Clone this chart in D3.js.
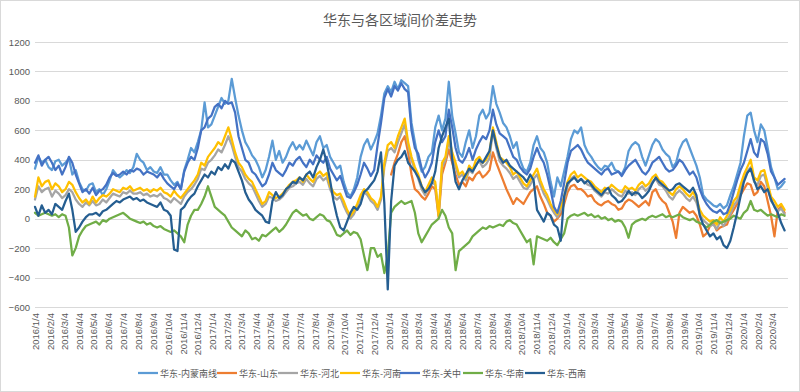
<!DOCTYPE html>
<html><head><meta charset="utf-8">
<script src="https://cdn.jsdelivr.net/npm/d3@7"></script>
<style>body{margin:0;background:#fff}svg{display:block}</style>
</head><body>
<svg id="c" width="800" height="392"></svg>
<script>
const seriesNames = ["华东-内蒙南线","华东-山东","华东-河北","华东-河南","华东-关中","华东-华南","华东-西南"];
const seriesColors = ["#5B9BD5","#ED7D31","#A5A5A5","#FFC000","#4472C4","#70AD47","#255E91"];
const yTicks = [-600,-400,-200,0,200,400,600,800,1000,1200];
// weekly sampling dates (Mondays) 2016/1/4 – 2020/3/30
const dates = d3.timeMondays(new Date(2016,0,4), new Date(2020,2,31));
const tickDates = d3.timeMonth.range(new Date(2016,0,1), new Date(2020,3,1)).map(d => new Date(d.getFullYear(), d.getMonth(), 4));

const neimeng = [340,420,380,400, 350,330,390,400,360, 380,410,300,330, 250,200,190,230, 240,180,200,160,200, 260,330,300,280, 300,330,310,350, 440,400,380,330,350, 320,310,350,300, 300,260,230,250,200, 330,400,480,450, 520,600,790,620,
640,700,760,820,780, 800,950,820,700, 600,520,480,430, 400,350,280,330, 420,530,400,460,380, 420,480,520,470, 500,470,530,480,430, 520,560,480,500, 420,380,340,360, 250,180,150,200,280, 420,500,540,470, 520,580,700,850,
900,860,930,880,940, 920,900,650,520, 400,320,350,420, 450,620,700,600,680, 930,700,580,450, 420,520,600,480, 560,700,740,680,720, 900,780,720,650, 620,560,480,520, 400,340,320,380,500, 560,480,450,380, 250,150,280,220,320,
420,540,600,580, 620,500,450,420, 380,350,330,360, 350,380,330,320,300, 350,460,500,520, 500,420,360,430, 500,540,520,470,440, 420,350,380,470, 520,540,480,420,360, 280,160,130,110, 90,80,100,70, 90,160,220,300,380,
560,700,720,600, 520,640,600,480, 350,280,200,220,250];

const shandong = Array(105).fill(null).concat([300,380,440,520, 560,450,300,200, 180,150,130,170, 220,200,10,300,380, 470,380,300,230, 250,220,280,260, 300,320,280,300,330, 450,380,320,260, 200,150,100,140, 120,100,140,180,200, 220,150,100,40, 20,-20,0,30,100,
180,220,230,200, 200,180,150,160, 120,100,90,110, 120,100,90,60,70, 110,130,120,100, 80,100,120,90, 180,200,150,120,100, 40,-20,-130,40, 80,60,40,50,20, -40,-120,-100,-50, -30,-80,-60,-50, -40,20,60,100,160,
200,240,230,160, 180,250,220,120, 20,-120,60,80,40]);

const hebei = [130,220,180,200, 210,150,190,170,140, 160,200,180,130, 100,80,110,90, 120,90,100,130,110, 140,170,160,150, 180,170,190,170, 170,180,160,170,150, 160,150,170,140, 130,110,140,120,100, 150,180,200,230, 270,340,330,380,
400,430,470,450,500, 560,500,420,350, 320,270,240,220, 170,120,80,100, 150,140,120,130,150, 180,210,220,240, 250,230,270,240,220, 270,290,260,280, 200,150,130,150, 90,40,0,30,80, 140,180,160,120, 100,60,130,350,
460,480,450,520,580, 640,500,400,330, 270,200,160,210, 250,230,30,350,400, 530,420,350,280, 300,260,330,310, 370,390,350,370,410, 600,480,390,360, 340,310,270,290, 250,210,200,230,270, 300,230,170,130, 80,40,10,60,130,
220,270,290,250, 270,250,230,220, 190,170,150,180, 170,200,180,160,150, 190,170,180,160, 200,220,190,210, 250,270,230,220,190, 150,130,170,190, 170,140,120,150,110, 30,-10,-30,-50, -40,-70,-20,-50, -10,30,90,120,200,
270,320,350,250, 230,290,300,210, 120,90,50,70,30];

const henan = [150,280,220,250, 260,200,240,220,180, 200,250,230,180, 140,110,130,100, 150,110,140,160,150, 170,200,190,180, 210,200,220,190, 200,210,190,200,180, 200,190,210,180, 170,150,190,160,140, 170,200,230,260, 300,380,360,420,
450,480,520,500,560, 620,540,450,380, 350,300,270,250, 200,150,100,120, 180,160,140,150,170, 200,230,250,260, 280,250,300,270,250, 300,320,290,310, 220,180,160,170, 120,60,20,50,100, 160,200,180,140, 120,80,150,380,
500,520,480,560,620, 680,520,420,350, 300,220,180,230, 280,250,20,380,420, 560,450,380,300, 320,280,360,330, 400,420,380,400,450, 620,520,420,400, 380,350,300,320, 280,240,220,260,300, 340,260,200,160, 100,60,30,80,150,
250,300,320,280, 300,280,260,250, 220,200,180,210, 200,230,210,190,180, 220,200,210,190, 230,250,220,240, 280,300,260,250,220, 180,160,200,220, 200,170,150,180,140, 60,20,0,-20, -10,-40,10,-20, 20,60,120,150,230,
300,350,400,280, 260,320,330,240, 150,120,80,100,60];

const guanzhong = [380,430,360,400, 420,380,330,360,300, 350,420,380,300, 240,180,200,170, 210,160,190,200,230, 280,310,290,300, 320,300,330,320, 340,330,300,320,310, 300,280,310,270, 240,220,200,240,200, 320,380,420,400, 480,600,620,680,
700,760,780,750,800, 780,790,720,560, 480,400,380,320, 300,260,220,240, 300,380,330,310,290, 330,380,360,400, 420,380,350,400,370, 430,400,380,420, 340,300,260,290, 220,150,140,180,230, 300,380,340,290, 330,500,650,820,
880,830,900,870,920, 880,860,600,480, 440,340,280,320, 380,520,600,520,560, 740,620,480,400, 380,420,480,400, 470,520,560,540,600, 740,640,580,560, 540,480,420,400, 350,320,300,340,420, 480,420,380,300, 200,80,40,120,240,
380,460,480,500, 470,420,380,360, 340,320,300,330, 340,300,310,320,290, 330,360,380,400, 360,320,300,330, 380,400,420,380,340, 320,330,360,400, 380,340,300,320,280, 200,140,100,70, 50,40,60,30, 40,100,180,260,330,
380,460,540,450, 420,540,520,440, 320,280,230,250,270];

const huanan = [40,20,30,40, 30,20,30,10,30, 20,-60,-250,-200, -120,-80,-50,-40, -30,-20,-40,-10,-20, 0,10,20,30, 40,20,0,-10, -20,-30,-20,-40,-30, -50,-60,-50,-70, -80,-90,-80,-100,-120, -160,-40,20,60, 60,100,150,220,
150,80,60,40,20, -20,-60,-80,-100, -120,-80,-100,-140, -130,-150,-110,-120, -100,-80,-60,-90,-70, -40,0,40,60, 40,20,30,0,-10, 10,30,20,-10, -20,-60,-110,-120, -100,-80,-110,-90,-100, -140,-250,-350,-200, -200,-260,-240,-370,
-250,40,80,100,120, 100,110,120,40, -100,-160,-120,-80, -40,-20,0,60,20, -60,-100,-350,-220, -200,-180,-160,-120, -100,-80,-60,-70,-50, -60,-50,-40,-50, -20,-10,-30,-40, -80,-120,-160,-140,-310, -120,-130,-140,-150, -130,-160,-180,-140,-100,
0,20,30,20, 30,40,20,30, 10,20,0,10, -10,0,-20,-10,-20, -60,-130,-40,-20, -10,0,-10,10, 20,10,20,30,10, 20,10,20,30, 10,0,-10,0,-20, -30,-40,-60,-40, -20,-10,-30,-20, -10,0,20,10,0,
40,60,120,60, 50,60,40,20, 30,20,10,30,20];

const xinan = [80,20,90,40, 60,30,100,80,60, 120,170,60,-90, -60,-20,10,30, 30,40,20,50,60, 80,100,120,110, 130,140,150,130, 140,120,130,110,100, 90,80,110,60, 50,20,-210,-220,60, 80,120,150,170, 220,260,300,280,
320,300,350,330,370, 340,400,380,320, 260,180,130,100, 60,40,20,-20, -30,120,180,140,160, 200,220,250,240, 280,260,300,320,280, 350,400,470,380, 260,120,20,-60, -80,-20,40,80,60, 100,180,200,230, 260,320,450,100,
-480,120,360,400,420, 460,380,350,320, 280,220,180,200, 240,320,480,560,620, 680,400,250,200, 260,300,340,320, 360,400,380,420,460, 600,500,420,380, 400,360,340,320, 300,280,250,300,260, 60,20,-20,40, 20,-40,-60,-150,150,
240,260,280,250, 270,240,260,230, 200,180,160,190, 210,160,140,110,120, 150,190,160,180, 170,140,160,190, 240,280,250,230,210, 190,200,230,240, 220,200,180,210,160, 20,-40,-80,-120, -100,-140,-120,-180, -200,-150,-60,40,150,
250,310,340,260, 200,220,180,200, 130,80,40,-30,-80];

const seriesData = [neimeng, shandong, hebei, henan, guanzhong, huanan, xinan];

const svg = d3.select("#c");
const W = 800, H = 392;
svg.append("rect").attr("x",0.5).attr("y",0.5).attr("width",W-1).attr("height",H-1).attr("fill","#fff").attr("stroke","#D9D9D9");

const x = d3.scaleTime().domain([new Date(2016,0,4), new Date(2020,3,6)]).range([35, 788]);
const y = d3.scaleLinear().domain([-600, 1200]).range([307, 42]);

// gridlines
svg.append("g").selectAll("line").data(yTicks).join("line")
  .attr("x1",35).attr("x2",788).attr("y1",d=>Math.round(y(d))+0.5).attr("y2",d=>Math.round(y(d))+0.5)
  .attr("stroke","#D9D9D9").attr("stroke-width",1);

// y axis labels
const yAxis = d3.axisLeft(y).tickValues(yTicks).tickFormat(d3.format("d")).tickSize(0).tickPadding(0);
const gy = svg.append("g").attr("transform","translate(30,0)").call(yAxis);
gy.select(".domain").remove();
gy.selectAll("text").attr("fill","#595959").style("font-family","'Liberation Sans',Arial,sans-serif").style("font-size","9.5px");

// x axis labels
const xAxis = d3.axisBottom(x).tickValues(tickDates).tickFormat(d3.timeFormat("%Y/%-m/%-d")).tickSize(0).tickPadding(0);
const gx = svg.append("g").attr("transform","translate(0,313)").call(xAxis);
gx.select(".domain").remove();
gx.selectAll("text").attr("fill","#595959").style("font-family","'Liberation Sans',Arial,sans-serif").style("font-size","9.5px")
  .attr("transform","rotate(-90)").attr("text-anchor","end").attr("x",0).attr("y",0).attr("dy","0.35em");

// lines
const line = d3.line().defined(d => d !== null).x((d,i) => x(dates[i])).y(d => y(d));
svg.append("g").selectAll("path").data(seriesData).join("path")
  .attr("d", line).attr("fill","none")
  .attr("stroke",(d,i)=>seriesColors[i]).attr("stroke-width",2.25)
  .attr("stroke-linejoin","round").attr("stroke-linecap","round");

// title
svg.append("text").attr("x",400).attr("y",19).attr("text-anchor","middle").attr("dominant-baseline","central")
  .attr("fill","#595959").style("font-family","'Noto Sans CJK SC',sans-serif").style("font-size","14px")
  .text("华东与各区域间价差走势");

// legend
const legendX = [138,217,278,340,400,463,525];
const lg = svg.append("g");
seriesNames.forEach((n,i)=>{
  const g = lg.append("g").attr("transform",`translate(${legendX[i]},373)`);
  g.append("line").attr("x1",0).attr("x2",20).attr("y1",0).attr("y2",0).attr("stroke",seriesColors[i]).attr("stroke-width",2.25);
  g.append("text").attr("x",22).attr("y",0).attr("dominant-baseline","central").attr("fill","#595959")
   .style("font-family","'Noto Sans CJK SC',sans-serif").style("font-size","9px").text(n);
});
</script>
</body></html>
